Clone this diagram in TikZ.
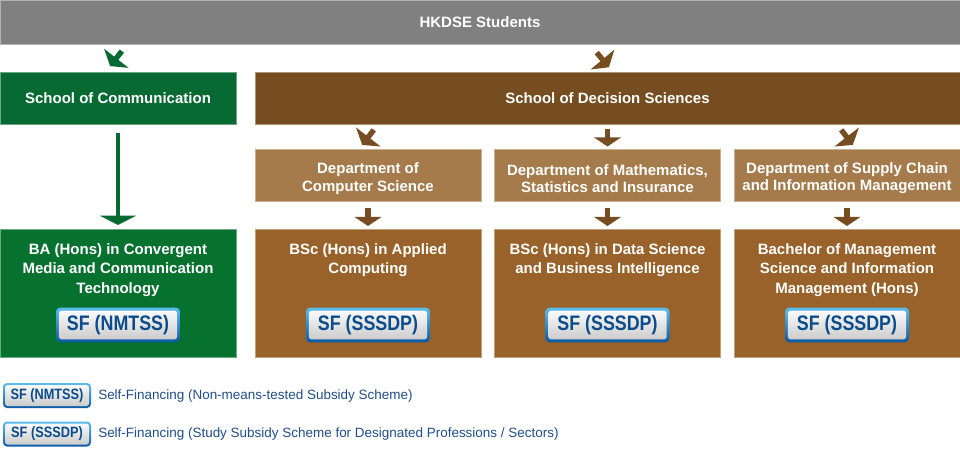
\documentclass[tikz,border=0pt]{standalone}
\usepackage{fontspec}
\setmainfont{Liberation Sans}
\newfontfamily\badgefont[FakeStretch=0.85]{Liberation Sans}
\usetikzlibrary{arrows.meta}
\definecolor{bargray}{HTML}{808081}
\definecolor{comgreen}{HTML}{066A32}
\definecolor{proggreen}{HTML}{07722F}
\definecolor{sdsbrown}{HTML}{754D20}
\definecolor{deptbrown}{HTML}{A57B4B}
\definecolor{progbrown}{HTML}{98622A}
\definecolor{sfblue}{HTML}{0B4C8C}
\definecolor{legendblue}{HTML}{1F4E89}
\definecolor{badgetop}{HTML}{5CBCEE}
\definecolor{badgebot}{HTML}{0B5AA4}

\begin{document}
\begin{tikzpicture}[x = 0.75pt, y = -0.75pt,
  box/.style = {fill=#1, draw=#1!60!white, line width=0.5pt, inner sep=0pt, outer sep=0pt, text=white, align=center, font=\bfseries\fontsize{11.25}{13.1}\selectfont},
  dept/.style = {minimum width=169.5pt, minimum height=39pt},
  prog/.style = {minimum width=169.5pt, minimum height=96pt},
  title/.style = {inner sep=0pt, anchor=north, text=white, align=center, font=\bfseries\fontsize{11.25}{14.6}\selectfont},
  badgebase/.style = {rounded corners=3pt, inner sep=0pt, top color=badgetop, bottom color=badgebot, text=sfblue,
    path picture={\shade[rounded corners=2pt, top color=white, bottom color=black!22] ([shift={(#1,-#1)}]path picture bounding box.north west) rectangle ([shift={(-#1,#1)}]path picture bounding box.south east);}},
  badge/.style = {badgebase=2.2pt, minimum width=93pt, minimum height=26pt, font=\badgefont\bfseries\fontsize{15.75}{16}\selectfont},
  smallbadge/.style = {badgebase=1.5pt, minimum width=66pt, minimum height=18.75pt, font=\badgefont\bfseries\fontsize{11.25}{12}\selectfont},
  legend/.style = {anchor=west, inner sep=0pt, text=legendblue, font=\fontsize{10.1}{12}\selectfont},
  blockarrow/.style = {draw=#1, line width=4pt, -{Triangle[width=23pt,length=7.5pt]}},
  downarrow/.style = {draw=#1, line width=3.8pt, -{Triangle[width=20pt,length=6.8pt]}, shorten <=4.9pt, shorten >=2.25pt},]

\useasboundingbox (0,0) rectangle (960,450);

\node[box=bargray, minimum width=720pt, minimum height=33pt] (H) at (480,22) {HKDSE Students};
\node[box=comgreen, minimum width=177pt, minimum height=39pt] (SC) at (118,98) {School of Communication};
\node[box=sdsbrown, minimum width=528.75pt, minimum height=39pt] (SD) at (607.5,98) {School of Decision Sciences};

\node[box=deptbrown, dept] (CS) at (368,175.5) {\rule{0pt}{12.5pt}Department of\\Computer Science};
\node[box=deptbrown, dept] (MS) at (607.5,175.5) {\rule{0pt}{12.5pt}Department of Mathematics,\\Statistics and Insurance};
\node[box=deptbrown, dept] (SI) at (847,175.5) {\rule{0pt}{12.5pt}Department of Supply Chain\\and Information Management};

\node[box=proggreen, prog, minimum width=177pt] (PBA) at (118,293) {};
\node[box=progbrown, prog] (PAC) at (368,293) {};
\node[box=progbrown, prog] (PDS) at (607.5,293) {};
\node[box=progbrown, prog] (PMS) at (847,293) {};

\node[title] (TBA) at (118,243) {BA (Hons) in Convergent\\Media and Communication\\Technology};
\node[title] (TAC) at (368,243) {BSc (Hons) in Applied\\Computing};
\node[title] (TDS) at (607.5,243) {BSc (Hons) in Data Science\\and Business Intelligence};
\node[title] (TMS) at (847,243) {Bachelor of Management\\Science and Information\\Management (Hons)};

\node[badge] (FBA) at (118,325) {SF (NMTSS)};
\node[badge] (FAC) at (368,325) {SF (SSSDP)};
\node[badge] (FDS) at (607.5,325) {SF (SSSDP)};
\node[badge] (FMS) at (847,325) {SF (SSSDP)};

\node[smallbadge] (LN) at (47,395.5) {SF (NMTSS)};
\node[smallbadge] (LS) at (47,434) {SF (SSSDP)};
\node[legend] (TN) at (98,396) {Self-Financing (Non-means-tested Subsidy Scheme)};
\node[legend] (TS) at (98,434.5) {Self-Financing (Study Subsidy Scheme for Designated Professions / Sectors)};

\coordinate (SCin) at (121.9,51.1);
\coordinate (SCout) at (110.1,66.1);
\coordinate (SDin) at (596.7,52.6);
\coordinate (SDout) at (608.9,67.2);
\coordinate (CSin) at (373.8,129.9);
\coordinate (CSout) at (362.2,144.9);
\coordinate (SIin) at (841.2,129.9);
\coordinate (SIout) at (852.8,144.9);

\draw[blockarrow=comgreen] (SCin) -- (SCout);
\draw[blockarrow=sdsbrown] (SDin) -- (SDout);
\draw[blockarrow=sdsbrown] (CSin) -- (CSout);
\draw[blockarrow=sdsbrown] (SIin) -- (SIout);
\draw[downarrow=sdsbrown, shorten <=3.75pt] (SD) -- (MS);
\draw[draw=comgreen, line width=3.4pt, -{Triangle[width=27pt,length=7pt]}, shorten <=6.5pt, shorten >=3pt] (SC) -- (PBA);

\draw[downarrow=sdsbrown] (CS) -- (PAC);
\draw[downarrow=sdsbrown] (MS) -- (PDS);
\draw[downarrow=sdsbrown] (SI) -- (PMS);

\end{tikzpicture}
\end{document}
